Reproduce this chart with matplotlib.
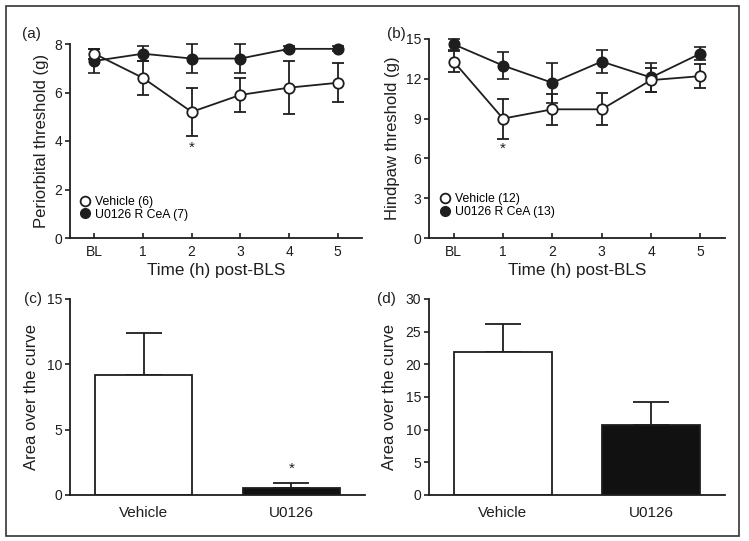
import matplotlib
matplotlib.use("Agg")
import matplotlib.pyplot as plt
from matplotlib.lines import Line2D
from matplotlib.patches import Rectangle

plt.rcParams['font.family'] = ['Liberation Sans', 'DejaVu Sans']

# time course data
times = ["BL", "1", "2", "3", "4", "5"]

peri_veh = [7.6, 6.6, 5.2, 5.9, 6.2, 6.4]
peri_veh_err = [0.2, 0.7, 1.0, 0.7, 1.1, 0.8]
peri_u0126 = [7.3, 7.6, 7.4, 7.4, 7.8, 7.8]
peri_u0126_err = [0.5, 0.3, 0.6, 0.6, 0.1, 0.1]

hind_veh = [13.3, 9.0, 9.7, 9.7, 11.9, 12.2]
hind_veh_err = [0.8, 1.5, 1.15, 1.2, 0.9, 0.9]
hind_u0126 = [14.6, 13.0, 11.7, 13.3, 12.1, 13.9]
hind_u0126_err = [0.4, 1.0, 1.5, 0.9, 1.1, 0.5]

# area over the curve
groups = ["Vehicle", "U0126"]
aoc_peri = [9.2, 0.55]
aoc_peri_err = [3.2, 0.35]
aoc_hind = [21.9, 10.7]
aoc_hind_err = [4.3, 3.5]

ink = "#1e1e1e"
W, H = 749, 541


def style_axes(ax):
    for s in ["top", "right"]:
        ax.spines[s].set_visible(False)
    for s in ["left", "bottom"]:
        ax.spines[s].set_linewidth(1.3)
        ax.spines[s].set_color(ink)
    ax.tick_params(axis="y", direction="out", length=3.5, width=1.2,
                   colors=ink, labelsize=10, pad=2)
    ax.tick_params(axis="x", direction="in", length=3.5, width=1.2,
                   colors=ink, labelsize=10, pad=5)


def time_panel(ax, veh, veh_err, u0, u0_err, ymax, step, ylabel):
    x = list(range(len(times)))
    ax.errorbar(x, u0, yerr=u0_err, color=ink, lw=1.3, elinewidth=1.3,
                capsize=4, capthick=1.3, marker="o", ms=7.5, mfc=ink,
                mec=ink, mew=1.2, clip_on=False, zorder=3)
    ax.errorbar(x, veh, yerr=veh_err, color=ink, lw=1.3, elinewidth=1.3,
                capsize=4, capthick=1.3, marker="o", ms=7.5, mfc="white",
                mec=ink, mew=1.3, clip_on=False, zorder=4)
    ax.set_xlim(-0.5, 5.5)
    ax.set_ylim(0, ymax)
    ax.set_xticks(x)
    ax.set_xticklabels(times)
    ax.set_yticks(range(0, ymax + 1, step))
    ax.set_xlabel("Time (h) post-BLS", fontsize=12.3, color=ink, labelpad=3)
    ax.set_ylabel(ylabel, fontsize=12, color=ink, labelpad=4)
    style_axes(ax)
    handles = [
        Line2D([], [], ls="none", marker="o", ms=7, mfc="white", mec=ink, mew=1.3),
        Line2D([], [], ls="none", marker="o", ms=7, mfc=ink, mec=ink),
    ]
    return handles


def bar_panel(ax, vals, errs, ymax, step):
    x = [0, 1]
    ax.bar(x, vals, width=0.66, color=["white", "#111111"], edgecolor=ink,
           linewidth=1.3, zorder=2)
    ax.errorbar(x, vals, yerr=[[0, 0], errs], fmt="none", ecolor=ink,
                elinewidth=1.3, capsize=13, capthick=1.3, zorder=1)
    ax.set_xlim(-0.5, 1.5)
    ax.set_ylim(0, ymax)
    ax.set_xticks(x)
    ax.set_xticklabels(groups)
    ax.set_yticks(range(0, ymax + 1, step))
    ax.set_ylabel("Area over the curve", fontsize=12, color=ink, labelpad=6)
    style_axes(ax)
    ax.tick_params(axis="x", length=0, pad=8, labelsize=11)


fig = plt.figure(figsize=(W / 100, H / 100), dpi=100)

ax_a = fig.add_axes([70 / W, 1 - 238 / H, 292 / W, 194 / H])
ax_b = fig.add_axes([429 / W, 1 - 238 / H, 296 / W, 199 / H])
ax_c = fig.add_axes([70 / W, 1 - 495 / H, 295 / W, 196 / H])
ax_d = fig.add_axes([429 / W, 1 - 495 / H, 296 / W, 196 / H])

h = time_panel(ax_a, peri_veh, peri_veh_err, peri_u0126, peri_u0126_err,
               8, 2, "Periorbital threshold (g)")
ax_a.legend(h, ["Vehicle (6)", "U0126 R CeA (7)"], loc="lower left",
            bbox_to_anchor=(0.03, 0.09), frameon=False, fontsize=8.8,
            handlelength=1, handletextpad=0.3, labelspacing=0.05,
            borderpad=0, borderaxespad=0)
ax_a.text(2, 3.7, "*", ha="center", va="center", fontsize=11, color=ink)

h = time_panel(ax_b, hind_veh, hind_veh_err, hind_u0126, hind_u0126_err,
               15, 3, "Hindpaw threshold (g)")
ax_b.legend(h, ["Vehicle (12)", "U0126 R CeA (13)"], loc="lower left",
            bbox_to_anchor=(0.035, 0.1), frameon=False, fontsize=8.8,
            handlelength=1, handletextpad=0.3, labelspacing=0.05,
            borderpad=0, borderaxespad=0)
ax_b.text(1, 6.7, "*", ha="center", va="center", fontsize=11, color=ink)

bar_panel(ax_c, aoc_peri, aoc_peri_err, 15, 5)
ax_c.text(1, 2.0, "*", ha="center", va="center", fontsize=11, color=ink)
bar_panel(ax_d, aoc_hind, aoc_hind_err, 30, 5)

# panel letters
for lbl, px, py in [("(a)", 22, 34), ("(b)", 387, 34),
                    ("(c)", 24, 299), ("(d)", 377, 299)]:
    fig.text(px / W, 1 - py / H, lbl, fontsize=11, color=ink,
             ha="left", va="center")

# outer frame
fig.patches.append(Rectangle((6 / W, 1 - 536 / H), 733 / W, 530 / H,
                             transform=fig.transFigure, fill=False,
                             edgecolor="#333333", linewidth=1.2))

fig.savefig("out.png", dpi=100)
